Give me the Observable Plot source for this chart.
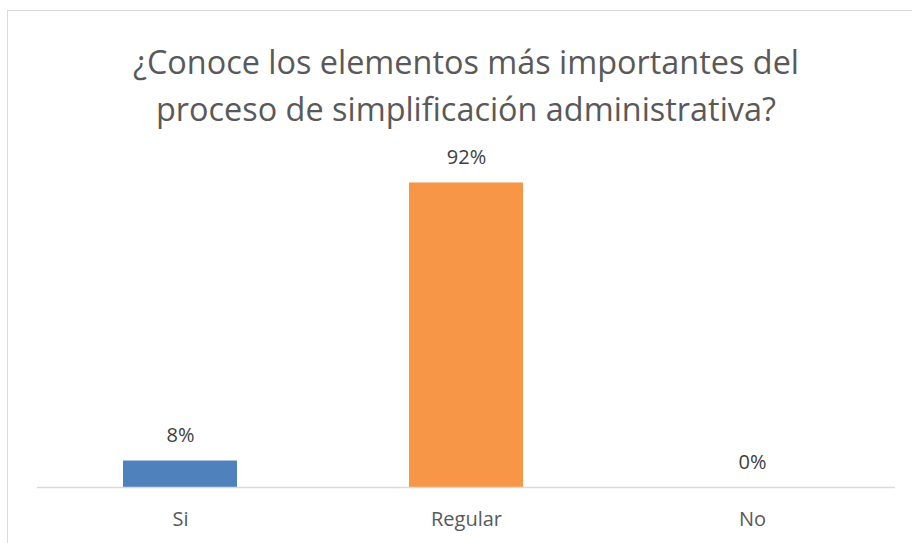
<!DOCTYPE html>
<html>
<head>
<meta charset="utf-8">
<script src="https://cdn.jsdelivr.net/npm/d3@7"></script>
<script src="https://cdn.jsdelivr.net/npm/@observablehq/plot@0.6"></script>
<style>
  html, body { margin: 0; padding: 0; background: #ffffff; width: 912px; height: 543px; overflow: hidden; }
  #frame { position: absolute; left: 7px; top: 10px; width: 930px; height: 560px; border: 1px solid #d9d9d9; box-sizing: border-box; }
  #title { position: absolute; left: 0; top: 38px; width: 932px; text-align: center;
    font-family: "Open Sans", sans-serif; font-size: 32.4px; line-height: 47px; color: #595959; }
  #chart { position: absolute; left: 0; top: 140px; }
</style>
</head>
<body>
<div id="frame"></div>
<div id="title">¿Conoce los elementos más importantes del<br>proceso de simplificación administrativa?</div>
<div id="chart"></div>
<script>
const categories = ["Si", "Regular", "No"];
const values = [8, 92, 0];
const colors = ["#4f81bd", "#f79646", "#a5a5a5"];
const valueLabels = ["8%", "92%", "0%"];

const data = categories.map((c, i) => ({category: c, value: values[i], label: valueLabels[i], color: colors[i]}));

const plot = Plot.plot({
  width: 912,
  height: 403,
  marginLeft: 37,
  marginRight: 17,
  marginTop: 16,
  marginBottom: 56,
  style: {fontFamily: "Open Sans, sans-serif", fontSize: "20px", color: "#595959", background: "transparent"},
  x: {domain: categories, paddingInner: 0.6, paddingOuter: 0.3, label: null},
  y: {domain: [0, 100], axis: null},
  marks: [
    Plot.barY(data, {x: "category", y: "value", fill: "color"}),
    Plot.ruleY([0], {stroke: "#d9d9d9", strokeWidth: 1.5}),
    Plot.text(data, {x: "category", y: "value", text: "label", dy: -25, fill: "#404040", fontSize: 20}),
    Plot.axisX({tickSize: 0, tickPadding: 24, fontSize: 20, fill: "#595959", label: null})
  ]
});
document.getElementById("chart").appendChild(plot);
</script>
</body>
</html>
